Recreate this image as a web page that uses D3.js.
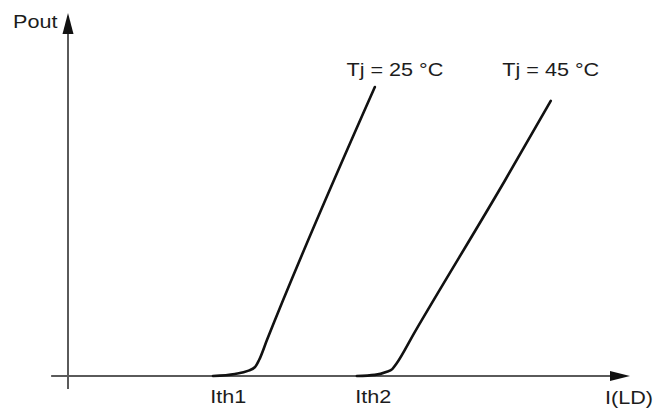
<!DOCTYPE html>
<html>
    <head>
        <title>Laser diode Pout vs I(LD)</title>
        <script src="https://d3js.org/d3.v7.min.js"></script>
        <style>
            body {
                margin: 0;
                background: #ffffff;
                overflow: hidden;
            }
            svg {
                display: block;
            }
            .axis-line {
                stroke: #5a5a5a;
                stroke-width: 2px;
            }
            .curve {
                fill: none;
                stroke: #111;
                stroke-width: 2.6px;
                stroke-linejoin: round;
                stroke-linecap: round;
            }
            text {
                font-family: 'Liberation Sans', Arial, sans-serif;
                font-size: 18px;
                fill: #1c1c1c;
            }
        </style>
    </head>
    <body>
        <script>
            // current (arbitrary units) and optical power (arbitrary units)
            const current25 = [25.8, 29.7, 32.0, 33.3, 34.0, 35.4, 54.6];
            const power25 = [0, 0.55, 1.4, 2.5, 4.4, 9.9, 79.6];
            const current45 = [51.4, 54.6, 56.6, 57.7, 58.4, 61.7, 77.8, 85.9];
            const power45 = [0, 0.3, 1.1, 1.9, 3.3, 12.1, 54.0, 75.8];
            const seriesLabels = ['Tj = 25 °C', 'Tj = 45 °C'];
            const thresholds = [25.3, 51.1];
            const thresholdLabels = ['Ith1', 'Ith2'];

            const width = 653;
            const height = 409;
            const stretch = 1.2; // the glyphs in the picture are drawn wide

            const x = d3.scaleLinear().domain([0, 100]).range([68, 630]);
            const y = d3.scaleLinear().domain([0, 100]).range([376, 13]);

            const svg = d3.select('body').append('svg').attr('width', width).attr('height', height);

            // axes with arrow heads
            svg.append('line').attr('class', 'axis-line')
                .attr('x1', x(-3)).attr('x2', x(100) - 14)
                .attr('y1', y(0)).attr('y2', y(0));
            svg.append('line').attr('class', 'axis-line')
                .attr('x1', x(0)).attr('x2', x(0))
                .attr('y1', y(-3.6)).attr('y2', y(100) + 16);

            svg.append('path')
                .attr('d', `M${x(100)},${y(0)} L${x(100) - 20},${y(0) - 5} L${x(100) - 20},${y(0) + 5} Z`)
                .attr('fill', '#111');
            svg.append('path')
                .attr('d', `M${x(0)},${y(100)} L${x(0) - 5.5},${y(100) + 21} L${x(0) + 5.5},${y(100) + 21} Z`)
                .attr('fill', '#111');

            const line = d3.line()
                .x((d) => x(d[0]))
                .y((d) => y(d[1]))
                .curve(d3.curveMonotoneX);

            const series = [
                { label: seriesLabels[0], points: d3.zip(current25, power25), dx: 20 },
                { label: seriesLabels[1], points: d3.zip(current45, power45), dx: 0 },
            ];

            svg.selectAll('path.curve')
                .data(series)
                .enter()
                .append('path')
                .attr('class', 'curve')
                .attr('d', (d) => line(d.points));

            function addText(str, px, py, anchor) {
                svg.append('text')
                    .attr('transform', `translate(${px},${py}) scale(${stretch},1)`)
                    .attr('text-anchor', anchor)
                    .text(str);
            }

            series.forEach((s) => {
                const top = s.points[s.points.length - 1];
                addText(s.label, x(top[0]) + s.dx, 76, 'middle');
            });

            thresholds.forEach((t, i) => addText(thresholdLabels[i], x(t), 403, 'start'));

            addText('Pout', 13, 28, 'start');
            addText('I(LD)', 605, 404, 'start');
        </script>
    </body>
</html>
